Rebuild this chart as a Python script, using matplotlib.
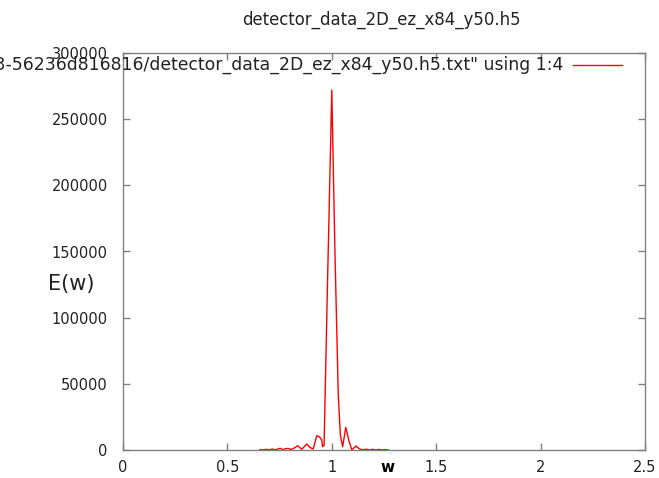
import matplotlib
matplotlib.use("Agg")
import matplotlib.pyplot as plt

# spectrum (w, E(w))
w = [0.656, 0.67, 0.685, 0.70, 0.715, 0.73, 0.745, 0.752, 0.765, 0.78, 0.79,
     0.805, 0.82, 0.837, 0.856, 0.868, 0.880, 0.895, 0.911, 0.928, 0.940,
     0.952, 0.956, 0.963, 0.98, 1.0, 1.015, 1.031, 1.041, 1.052, 1.067,
     1.082, 1.096, 1.116, 1.133, 1.15, 1.165, 1.18, 1.195, 1.21, 1.225,
     1.24, 1.255, 1.27]
E = [300, 100, 500, 150, 700, 200, 900, 1300, 300, 1000, 1200,
     400, 1500, 3200, 500, 2500, 4500, 2000, 750, 10800, 10000,
     7500, 2500, 3500, 130000, 272000, 150000, 41500, 11300, 2500, 17100,
     7000, 0, 3000, 750, 200, 600, 150, 500, 100, 400,
     150, 300, 100]

xticks = [0, 0.5, 1, 1.5, 2, 2.5]
xticklabels = ["0", "0.5", "1", "1.5", "2", "2.5"]
yticks = [0, 50000, 100000, 150000, 200000, 250000, 300000]

legend_label = ('"/tmp/tmpq7c1a2e0-4f3b-4d93-a1e8-0da3-56236d816816/'
                'detector_data_2D_ez_x84_y50.h5.txt" using 1:4')

fig = plt.figure(figsize=(6.59, 4.78), dpi=100)
ax = fig.add_axes([123 / 659, 28 / 478, 522 / 659, 397 / 478])

ax.plot(w, E, color="#ff0000", linewidth=1.0)

ax.set_xlim(0, 2.5)
ax.set_ylim(0, 300000)
ax.set_xticks(xticks)
ax.set_xticklabels(xticklabels)
ax.set_yticks(yticks)
ax.set_yticklabels([str(v) for v in yticks])

for s in ax.spines.values():
    s.set_color("#808080")
    s.set_linewidth(1.0)
ax.tick_params(direction="in", length=5, width=1, color="#808080",
               top=True, right=True, labelsize=10.5, labelcolor="#222222")
ax.tick_params(axis="y", pad=11)
ax.tick_params(axis="x", pad=7)

fig.text(381 / 659, 1 - 20 / 478, "detector_data_2D_ez_x84_y50.h5",
         fontsize=11.9, ha="center", va="center", color="#222222")
fig.text(388 / 659, 1 - 468 / 478, "w", fontsize=11, fontweight="bold",
         ha="center", va="center")
fig.text(71 / 659, 1 - 284 / 478, "E(w)", fontsize=15,
         ha="center", va="center", color="#222222")

# gnuplot-style key: text right-aligned, then a line sample
fig.text(563 / 659, 1 - 65 / 478, legend_label,
         ha="right", va="center", fontsize=12.4, color="#222222")
fig.add_artist(plt.Line2D([573 / 659, 622 / 659], [1 - 65 / 478, 1 - 65 / 478],
                          transform=fig.transFigure, color="#ff0000",
                          linewidth=1.0))

fig.savefig("out.png", dpi=100)
